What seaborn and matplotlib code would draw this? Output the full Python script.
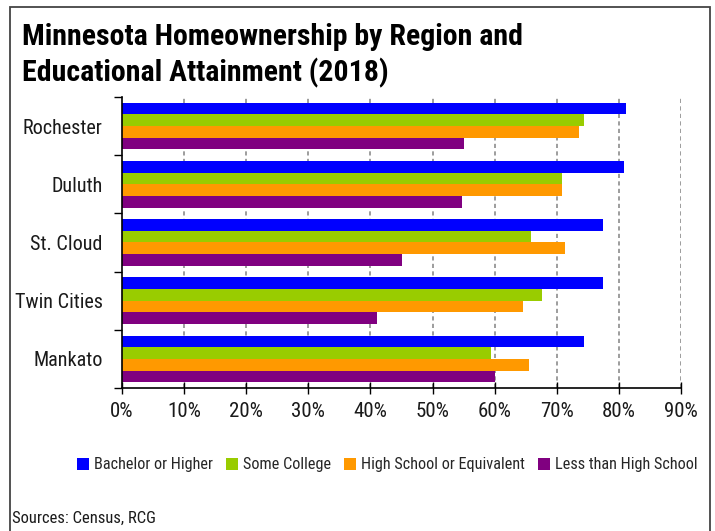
import os
import matplotlib
matplotlib.use("Agg")
import matplotlib.pyplot as plt
from matplotlib import font_manager
from matplotlib.font_manager import FontProperties
from matplotlib.patches import Rectangle
from matplotlib.ticker import FixedLocator
import pandas as pd
import seaborn as sns

# Homeownership rate (%) by region and educational attainment, 2018
regions = ["Rochester", "Duluth", "St. Cloud", "Twin Cities", "Mankato"]
levels = ["Bachelor or Higher", "Some College", "High School or Equivalent", "Less than High School"]
bachelor = [81.1, 80.9, 77.5, 77.5, 74.4]
some_college = [74.4, 70.9, 65.8, 67.6, 59.4]
high_school = [73.6, 70.9, 71.3, 64.5, 65.6]
less_than_hs = [55.0, 54.8, 45.0, 41.1, 60.1]
colors = ["#0000FF", "#99CC00", "#FF9900", "#800080"]
x_ticks = [0, 10, 20, 30, 40, 50, 60, 70, 80, 90]


def find_narrow(bold):
    """Return the file of an installed condensed sans face, or None."""
    prefixes = ["LiberationSansNarrow", "RobotoCondensed", "NotoSans-Condensed",
                "NotoSansCondensed", "OpenSans_Condensed", "OpenSansCondensed",
                "OpenSans-Condensed", "DejaVuSansCondensed"]
    wanted = {"-bold", "bold", "_bold"} if bold else {"", "-regular", "regular", "_regular"}
    files = sorted({f.fname for f in font_manager.fontManager.ttflist})
    for prefix in prefixes:
        for path in files:
            base = os.path.splitext(os.path.basename(path))[0]
            if base.startswith(prefix) and base[len(prefix):].lower() in wanted:
                return path
    return None


reg_file = find_narrow(False)
bold_file = find_narrow(True)
scale = 1.0 if reg_file else 0.8


def fp(size, bold=False):
    path = bold_file if bold else reg_file
    if path:
        return FontProperties(fname=path, size=size)
    return FontProperties(family="DejaVu Sans", size=size * scale,
                          weight="bold" if bold else "normal")


rows = []
for level, series in zip(levels, [bachelor, some_college, high_school, less_than_hs]):
    for region, value in zip(regions, series):
        rows.append({"region": region, "level": level, "rate": value})
df = pd.DataFrame(rows)

sns.set_style("white")

fig = plt.figure(figsize=(7.15, 5.31), dpi=100)
ax = fig.add_axes([122 / 715, 1 - 388 / 531, (681 - 122) / 715, (388 - 97) / 531])

sns.barplot(
    data=df, x="rate", y="region", hue="level", order=regions, hue_order=levels,
    palette=colors, orient="h", width=0.8, saturation=1, linewidth=0, ax=ax,
)
handles, labels = ax.get_legend_handles_labels()
if ax.get_legend() is not None:
    ax.get_legend().remove()

ax.set_xlim(0, 90)
ax.set_ylim(len(regions) - 0.5, -0.5)
ax.set_xlabel("")
ax.set_ylabel("")

# Dashed vertical gridlines
for t in x_ticks[1:]:
    ax.axvline(t, color="#8c8c8c", lw=1.2, ls=(0, (2.5, 2)), zorder=0)

ax.xaxis.set_major_locator(FixedLocator(x_ticks))
ax.set_xticklabels([f"{t}%" for t in x_ticks], fontproperties=fp(15))
ax.tick_params(axis="x", direction="inout", length=8, width=1, color="black",
               pad=6, bottom=True)
# Category boundaries carry the y ticks; labels sit at category centres
ax.set_yticks(range(len(regions)))
ax.set_yticklabels(regions, fontproperties=fp(14.5))
ax.yaxis.set_minor_locator(FixedLocator([i - 0.5 for i in range(len(regions) + 1)]))
ax.tick_params(axis="y", which="major", length=0, pad=14)
ax.tick_params(axis="y", which="minor", left=True, direction="out", length=6, width=1, color="black")
for lab in ax.get_xticklabels() + ax.get_yticklabels():
    lab.set_color("#1a1a1a")

for side in ["top", "right"]:
    ax.spines[side].set_visible(False)
for side in ["left", "bottom"]:
    ax.spines[side].set_color("black")
    ax.spines[side].set_linewidth(1.2)

fig.text(22 / 715, 1 - 37 / 531, "Minnesota Homeownership by Region and",
         fontproperties=fp(21.5, bold=True), va="center", ha="left", color="black")
fig.text(22 / 715, 1 - 73 / 531, "Educational Attainment (2018)",
         fontproperties=fp(21.5, bold=True), va="center", ha="left", color="black")

fig.legend(handles, labels, loc="center", bbox_to_anchor=(387 / 715, 1 - 465 / 531),
           ncol=4, frameon=False, prop=fp(11.7), handlelength=0.75, handleheight=0.75,
           handletextpad=0.3, columnspacing=0.8, borderaxespad=0)

fig.text(12 / 715, 1 - 518 / 531, "Sources: Census, RCG", fontproperties=fp(12),
         va="center", ha="left", color="#1a1a1a")

frame = Rectangle((10 / 715, -0.05), 700 / 715, 1.05 - 7 / 531, transform=fig.transFigure,
                  fill=False, edgecolor="#444444", lw=1.3)
fig.patches.append(frame)

fig.savefig("out.png", dpi=100)
